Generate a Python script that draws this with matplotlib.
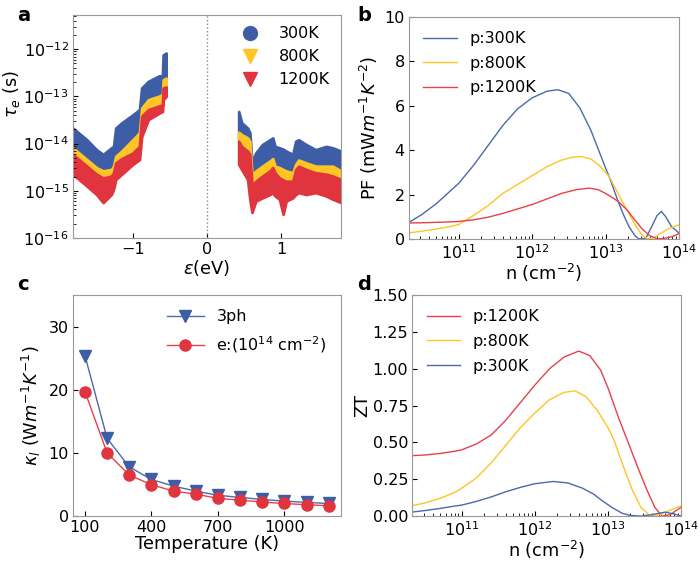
import numpy as np
import matplotlib
matplotlib.use("Agg")
import matplotlib.pyplot as plt
from matplotlib.lines import Line2D

# ---- panel a: relaxation time bands (log10 of tau_e in s) ----
e_val = [-1.81, -1.62, -1.49, -1.40, -1.29, -1.26, -1.23, -1.15, -1.00, -0.91, -0.88, -0.79, -0.64, -0.60, -0.59, -0.55]
tau300_val_hi = [-13.67, -13.92, -14.13, -14.23, -14.09, -14.06, -13.67, -13.56, -13.39, -13.28, -12.82, -12.68, -12.56, -12.58, -12.12, -12.08]
tau300_val_lo = [-14.2, -14.45, -14.65, -14.7, -14.7, -14.6, -14.4, -14.3, -14.05, -13.9, -13.4, -13.2, -13.1, -13.1, -12.8, -12.75]
tau800_val_hi = [-14.09, -14.34, -14.51, -14.58, -14.55, -14.48, -14.27, -14.16, -13.92, -13.77, -13.25, -13.07, -12.99, -12.96, -12.65, -12.61]
tau800_val_lo = [-14.35, -14.6, -14.8, -14.85, -14.8, -14.75, -14.55, -14.45, -14.3, -14.2, -13.55, -13.4, -13.3, -13.3, -12.95, -12.9]
tau1200_val_hi = [-14.23, -14.48, -14.65, -14.73, -14.69, -14.62, -14.41, -14.32, -14.20, -14.06, -13.42, -13.28, -13.20, -13.18, -12.82, -12.80]
tau1200_val_lo = [-14.65, -14.90, -15.08, -15.25, -15.08, -14.97, -14.76, -14.65, -14.44, -14.34, -13.85, -13.49, -13.35, -13.32, -13.07, -13.0]

e_con = [0.43, 0.47, 0.55, 0.58, 0.61, 0.66, 0.75, 0.85, 0.89, 0.92, 0.98, 1.03, 1.07, 1.16, 1.20, 1.24, 1.34, 1.47, 1.61, 1.70, 1.81]
tau300_con_hi = [-13.32, -13.56, -13.67, -13.77, -14.41, -14.20, -14.02, -13.92, -13.88, -14.06, -14.09, -14.12, -14.16, -14.23, -13.95, -13.92, -14.02, -14.13, -14.06, -14.09, -14.16]
tau300_con_lo = [-13.9, -13.95, -14.0, -14.1, -14.8, -14.7, -14.6, -14.5, -14.45, -14.6, -14.65, -14.7, -14.7, -14.75, -14.6, -14.5, -14.55, -14.6, -14.6, -14.6, -14.7]
tau800_con_hi = [-13.76, -13.81, -13.88, -13.95, -14.69, -14.58, -14.48, -14.37, -14.32, -14.48, -14.51, -14.55, -14.58, -14.62, -14.44, -14.35, -14.41, -14.48, -14.48, -14.48, -14.58]
tau800_con_lo = [-14.1, -14.2, -14.3, -14.4, -15.05, -14.95, -14.85, -14.75, -14.65, -14.75, -14.9, -14.9, -14.95, -14.95, -14.7, -14.65, -14.7, -14.75, -14.8, -14.85, -14.9]
tau1200_con_hi = [-13.95, -14.06, -14.16, -14.23, -14.90, -14.80, -14.69, -14.58, -14.51, -14.62, -14.73, -14.77, -14.80, -14.80, -14.55, -14.48, -14.55, -14.62, -14.65, -14.69, -14.76]
tau1200_con_lo = [-14.44, -14.55, -14.76, -15.18, -15.46, -15.22, -15.15, -15.08, -15.04, -15.11, -15.18, -15.50, -15.22, -15.15, -15.08, -15.04, -15.08, -15.04, -15.11, -15.18, -15.25]

# ---- panel b: power factor vs log10(n) ----
pf_n_300 = [10.31, 10.5, 10.7, 10.9, 11.0, 11.2, 11.4, 11.6, 11.8, 12.0, 12.2, 12.35, 12.5, 12.65, 12.8, 12.9, 13.0, 13.05, 13.1, 13.17, 13.25, 13.32, 13.4, 13.45, 13.5, 13.55, 13.62, 13.7, 13.76, 13.82, 13.9, 14.0]
pf_300 = [0.72, 1.1, 1.6, 2.2, 2.5, 3.3, 4.2, 5.1, 5.85, 6.35, 6.65, 6.72, 6.55, 5.9, 4.9, 4.05, 3.2, 2.8, 2.35, 1.7, 1.05, 0.55, 0.15, 0.01, 0.0, 0.05, 0.5, 1.05, 1.24, 1.0, 0.55, 0.27]
pf_n_800 = [10.31, 10.5, 10.7, 10.9, 11.0, 11.2, 11.4, 11.6, 11.8, 12.0, 12.2, 12.4, 12.55, 12.67, 12.8, 12.92, 13.05, 13.17, 13.29, 13.4, 13.5, 13.58, 13.65, 13.75, 13.85, 14.0]
pf_800 = [0.27, 0.35, 0.45, 0.57, 0.65, 1.05, 1.5, 2.05, 2.45, 2.85, 3.25, 3.55, 3.68, 3.71, 3.6, 3.3, 2.81, 2.05, 1.32, 0.65, 0.15, 0.0, 0.05, 0.25, 0.45, 0.64]
pf_n_1200 = [10.31, 10.5, 10.7, 10.9, 11.0, 11.2, 11.4, 11.6, 11.8, 12.0, 12.2, 12.4, 12.6, 12.78, 12.9, 13.0, 13.1, 13.17, 13.29, 13.4, 13.5, 13.6, 13.71, 13.8, 13.9, 14.0]
pf_1200 = [0.72, 0.73, 0.75, 0.77, 0.79, 0.86, 0.98, 1.15, 1.35, 1.55, 1.8, 2.05, 2.22, 2.29, 2.22, 2.05, 1.85, 1.69, 1.32, 0.85, 0.45, 0.15, 0.0, 0.03, 0.1, 0.24]

# ---- panel c: lattice thermal conductivity ----
temps = [100, 200, 300, 400, 500, 600, 700, 800, 900, 1000, 1100, 1200]
kappa_3ph = [25.4, 12.3, 7.8, 5.8, 4.75, 3.96, 3.3, 2.96, 2.64, 2.38, 2.17, 2.0]
kappa_e = [19.7, 10.0, 6.5, 4.97, 3.96, 3.49, 2.8, 2.54, 2.22, 2.0, 1.8, 1.64]

# ---- panel d: ZT vs log10(n) ----
zt_n_300 = [10.31, 10.5, 10.7, 10.9, 11.0, 11.2, 11.4, 11.6, 11.8, 12.0, 12.25, 12.45, 12.65, 12.8, 12.92, 13.05, 13.19, 13.3, 13.45, 13.6, 13.78, 13.9, 14.0]
zt_300 = [0.027, 0.038, 0.052, 0.068, 0.075, 0.1, 0.13, 0.165, 0.195, 0.22, 0.235, 0.225, 0.19, 0.15, 0.105, 0.06, 0.02, 0.005, 0.0, 0.01, 0.027, 0.015, 0.0]
zt_n_800 = [10.31, 10.5, 10.7, 10.9, 11.0, 11.2, 11.4, 11.6, 11.8, 12.0, 12.2, 12.4, 12.55, 12.7, 12.85, 13.0, 13.08, 13.2, 13.33, 13.45, 13.58, 13.7, 13.85, 14.0]
zt_800 = [0.07, 0.09, 0.12, 0.16, 0.19, 0.26, 0.36, 0.48, 0.6, 0.70, 0.79, 0.84, 0.85, 0.81, 0.72, 0.6, 0.52, 0.35, 0.18, 0.06, 0.0, 0.01, 0.04, 0.07]
zt_n_1200 = [10.31, 10.5, 10.7, 10.9, 11.0, 11.2, 11.4, 11.6, 11.8, 12.0, 12.2, 12.4, 12.6, 12.75, 12.9, 13.0, 13.15, 13.26, 13.4, 13.53, 13.64, 13.74, 13.85, 14.0]
zt_1200 = [0.41, 0.415, 0.425, 0.44, 0.45, 0.49, 0.55, 0.65, 0.77, 0.89, 1.0, 1.08, 1.12, 1.09, 0.99, 0.87, 0.66, 0.52, 0.34, 0.18, 0.06, 0.0, 0.01, 0.06]

BLUE = "#3d5ea6"
GOLD = "#ffc426"
RED = "#e0343f"
LBLUE = "#4a6aac"
LRED = "#e8404a"
SPINE = "#999999"
FS = 11.5    # ticks / legends
LFS = 12.8   # axis labels

plt.rcParams["font.family"] = "DejaVu Sans"
plt.rcParams["font.size"] = FS
plt.rcParams["mathtext.fontset"] = "dejavusans"

fig = plt.figure(figsize=(7.0, 5.61), dpi=100)
ax_a = fig.add_axes([0.104, 0.576, 0.383, 0.397])
ax_b = fig.add_axes([0.584, 0.574, 0.386, 0.396])
ax_c = fig.add_axes([0.104, 0.080, 0.383, 0.394])
ax_d = fig.add_axes([0.589, 0.080, 0.384, 0.394])

for ax in (ax_a, ax_b, ax_c, ax_d):
    for sp in ax.spines.values():
        sp.set_color(SPINE)
    ax.tick_params(which="both", direction="in", labelsize=FS, pad=3)

# panel a
bands = [
    (tau300_val_hi, tau300_val_lo, tau300_con_hi, tau300_con_lo, BLUE),
    (tau800_val_hi, tau800_val_lo, tau800_con_hi, tau800_con_lo, GOLD),
    (tau1200_val_hi, tau1200_val_lo, tau1200_con_hi, tau1200_con_lo, RED),
]
for vh, vl, ch, cl, col in bands:
    ax_a.fill_between(e_val, 10 ** np.array(vl), 10 ** np.array(vh), color=col, lw=2, edgecolor=col)
    ax_a.fill_between(e_con, 10 ** np.array(cl), 10 ** np.array(ch), color=col, lw=2, edgecolor=col)
ax_a.axvline(0, color="#888888", ls=":", lw=1)
ax_a.set_yscale("log")
ax_a.set_xlim(-1.81, 1.81)
ax_a.set_ylim(1e-16, 5.3e-12)
ax_a.set_xticks([-1, 0, 1])
ax_a.set_xlabel(r"$\varepsilon$(eV)", fontsize=LFS, labelpad=1)
ax_a.set_ylabel(r"$\tau_e$ (s)", fontsize=LFS)
ax_a.yaxis.set_label_coords(-0.19, 0.646)
handles_a = [
    Line2D([], [], ls="none", marker="o", ms=10, color=BLUE),
    Line2D([], [], ls="none", marker="v", ms=10, color=GOLD),
    Line2D([], [], ls="none", marker="v", ms=10, color=RED),
]
ax_a.legend(handles_a, ["300K", "800K", "1200K"], loc="upper right", frameon=False,
            fontsize=FS, handlelength=1.6, handletextpad=1.0, borderaxespad=0.3)

# panel b
ax_b.plot(10 ** np.array(pf_n_300), pf_300, color=LBLUE, lw=1, label="p:300K")
ax_b.plot(10 ** np.array(pf_n_800), pf_800, color=GOLD, lw=1, label="p:800K")
ax_b.plot(10 ** np.array(pf_n_1200), pf_1200, color=LRED, lw=1, label="p:1200K")
ax_b.set_xscale("log")
ax_b.set_xlim(2.1e10, 1e14)
ax_b.set_ylim(0, 10)
ax_b.set_xticks([1e11, 1e12, 1e13, 1e14])
ax_b.set_xlabel(r"n (cm$^{-2}$)", fontsize=LFS, labelpad=0)
ax_b.set_ylabel(r"PF (mW$m^{-1}K^{-2}$)", fontsize=LFS, labelpad=3)
ax_b.legend(loc="upper left", frameon=False, fontsize=FS, handlelength=2.1,
            handletextpad=0.8, labelspacing=0.6)

# panel c
ax_c.plot(temps, kappa_3ph, color=LBLUE, lw=1, marker="v", ms=8, mfc=BLUE, mec=BLUE, label="3ph")
ax_c.plot(temps, kappa_e, color=LRED, lw=1, marker="o", ms=8, mfc=RED, mec=RED,
          label=r"e:(10$^{14}$ cm$^{-2}$)")
ax_c.set_ylim(0, 35)
ax_c.set_xticks([100, 400, 700, 1000])
ax_c.set_yticks([0, 10, 20, 30])
ax_c.set_xlabel("Temperature (K)", fontsize=LFS, labelpad=0)
ax_c.set_ylabel(r"$\kappa_l$ (W$m^{-1}K^{-1}$)", fontsize=LFS)
ax_c.legend(loc="upper right", frameon=False, fontsize=FS, handlelength=2.3,
            handletextpad=0.8, labelspacing=0.6)

# panel d
ax_d.plot(10 ** np.array(zt_n_1200), zt_1200, color=LRED, lw=1, label="p:1200K")
ax_d.plot(10 ** np.array(zt_n_800), zt_800, color=GOLD, lw=1, label="p:800K")
ax_d.plot(10 ** np.array(zt_n_300), zt_300, color=LBLUE, lw=1, label="p:300K")
ax_d.set_xscale("log")
ax_d.set_xlim(2.1e10, 1e14)
ax_d.set_ylim(0, 1.5)
ax_d.set_xticks([1e11, 1e12, 1e13, 1e14])
ax_d.set_yticks([0, 0.25, 0.5, 0.75, 1.0, 1.25, 1.5])
ax_d.set_xlabel(r"n (cm$^{-2}$)", fontsize=LFS, labelpad=0)
ax_d.set_ylabel("ZT", fontsize=LFS, labelpad=1)
ax_d.legend(loc="upper left", frameon=False, fontsize=FS, handlelength=2.1,
            handletextpad=0.8, labelspacing=0.6)

for lab, x, y in [("a", 0.024, 0.99), ("b", 0.51, 0.99), ("c", 0.024, 0.51), ("d", 0.51, 0.51)]:
    fig.text(x, y, lab, fontsize=14, fontweight="bold", va="top", ha="left")

fig.savefig("out.png", dpi=100)
